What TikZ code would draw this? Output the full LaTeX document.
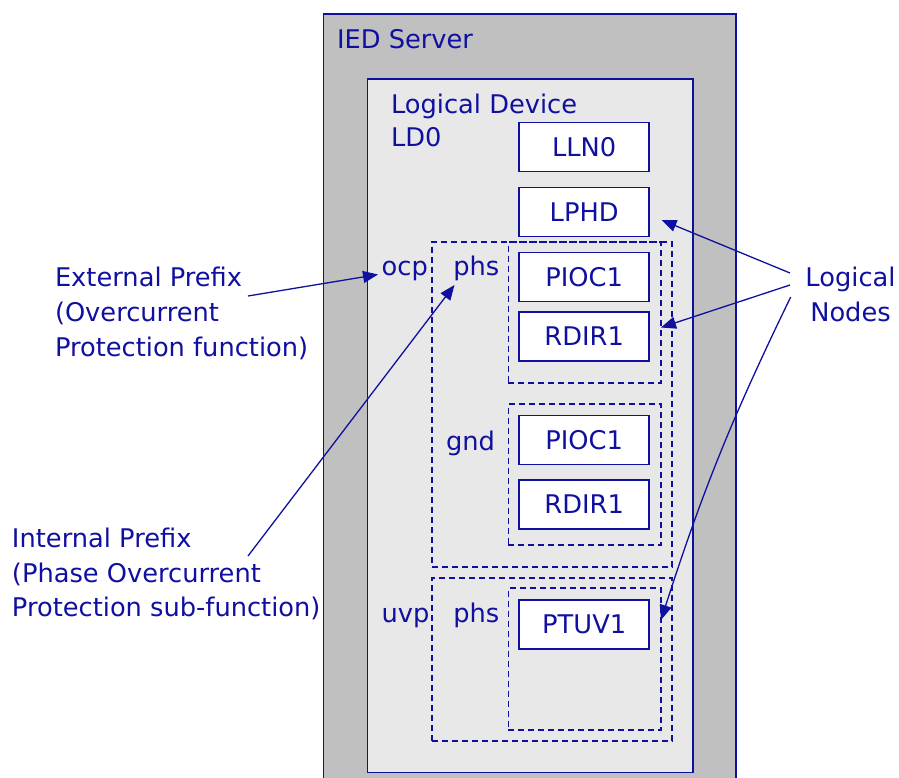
\documentclass[tikz,border=0pt]{standalone}
\usepackage{fontspec}
\setmainfont{DejaVu Sans}
\usetikzlibrary{arrows.meta}
\definecolor{ink}{RGB}{16,16,160}
\definecolor{srvgray}{RGB}{192,192,192}
\definecolor{ldgray}{RGB}{232,232,232}
\begin{document}
\begin{tikzpicture}[x=1pt,y=-1pt,
  lbl/.style={text=ink, font=\fontsize{25.7}{34.5}\selectfont, inner sep=0pt, outer sep=0pt},
  lnbox/.style={draw=ink, line width=1.6pt, fill=white, text=ink,
     font=\fontsize{25.7}{30}\selectfont, minimum width=130pt, minimum height=49pt, inner sep=0pt},
  area/.style={draw=ink, line width=1.5pt, anchor=north west, inner sep=0pt, outer sep=0pt},
  dbox/.style={draw=ink, line width=1.5pt, dash pattern=on 6pt off 4pt, anchor=north west, inner sep=0pt, outer sep=0pt},
  arr/.style={draw=ink, line width=1.3pt, -{Triangle[length=15pt,width=12pt]}}]
\useasboundingbox (0,0) rectangle (899,778);
\clip (0,0) rectangle (899,778);
% containers
\node[area, fill=srvgray, minimum width=412.5pt, minimum height=800pt] (ied) at (323.5,14) {};
\node[area, fill=ldgray, minimum width=325.5pt, minimum height=693.5pt] (ld) at (367.3,79) {};
% dashed groups
\node[dbox, minimum width=240pt, minimum height=325pt] (ocpbox) at (432,242) {};
\node[dbox, minimum width=152.7pt, minimum height=141pt] (phsbox) at (508.3,242) {};
\node[dbox, minimum width=152.7pt, minimum height=141pt] (gndbox) at (508.3,404) {};
\node[dbox, minimum width=240pt, minimum height=163pt] (uvpbox) at (432,578) {};
\node[dbox, minimum width=152.7pt, minimum height=142pt] (uvphsbox) at (508.3,588) {};
% logical nodes
\node[lnbox] (lln0) at (584.2,147) {LLN0};
\node[lnbox] (lphd) at (584.2,212) {LPHD};
\node[lnbox] (pioc1a) at (584.2,277) {PIOC1};
\node[lnbox] (rdir1a) at (584.2,336.2) {RDIR1};
\node[lnbox] (pioc1b) at (584.2,439.8) {PIOC1};
\node[lnbox] (rdir1b) at (584.2,504.6) {RDIR1};
\node[lnbox] (ptuv1) at (584.2,624.3) {PTUV1};
% titles and prefixes
\node[lbl, anchor=base west] (iedt) at (337,49) {IED Server};
\node[lbl, anchor=base west, align=left, font=\fontsize{25.7}{33.4}\selectfont] (ldt) at (391,146.7) {Logical Device\\LD0};
\node[lbl, anchor=base west] (ocp) at (381.7,275) {ocp};
\node[lbl, anchor=base west] (phs) at (453.3,275) {phs};
\node[lbl, anchor=base west] (gnd) at (446,450) {gnd};
\node[lbl, anchor=base west] (uvp) at (381.7,622.7) {uvp};
\node[lbl, anchor=base west] (phs2) at (453.3,622.7) {phs};
% annotations
\node[lbl, anchor=base west, align=left, font=\fontsize{25.7}{35}\selectfont] (ext) at (55,356.7) {External Prefix\\(Overcurrent\\Protection function)};
\node[lbl, anchor=base west, align=left] (int) at (12,616.7) {Internal Prefix\\(Phase Overcurrent\\Protection sub-function)};
\node[lbl, anchor=base, align=center, font=\fontsize{25.7}{35}\selectfont] (lnt) at (850.5,321.7) {Logical\\Nodes};
% arrow endpoints
\coordinate (extS) at (248,296);
\coordinate (ocpT) at (378,274.5);
\coordinate (intS) at (248,556);
\coordinate (phsT) at (454.5,285);
\coordinate (lnS1) at (790,273);
\coordinate (lphdT) at (661.5,220);
\coordinate (lnS2) at (790,285);
\coordinate (rdirT) at (661,327.5);
\coordinate (lnS3) at (790.7,297);
\coordinate (ptuvT) at (661,620);
\draw[arr] (extS) -- (ocpT);
\draw[arr] (intS) -- (phsT);
\draw[arr] (lnS1) -- (lphdT);
\draw[arr] (lnS2) -- (rdirT);
\draw[arr] (lnS3) to[bend right=4] (ptuvT);
\end{tikzpicture}
\end{document}
